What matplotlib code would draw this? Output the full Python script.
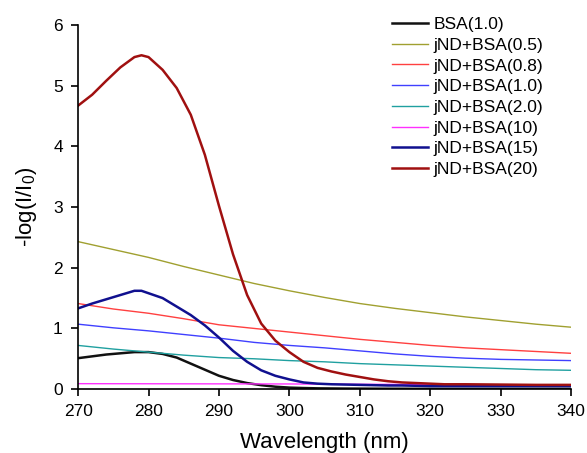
import matplotlib
matplotlib.use('Agg')
import matplotlib.pyplot as plt

plt.rcParams['font.family'] = ['Liberation Sans', 'DejaVu Sans']
plt.rcParams['mathtext.fontset'] = 'custom'
plt.rcParams['mathtext.rm'] = 'Liberation Sans'
plt.rcParams['mathtext.it'] = 'Liberation Sans:italic'
plt.rcParams['mathtext.default'] = 'regular'

# wavelength grids (nm)
wl_gentle = [270, 275, 280, 285, 290, 295, 300, 305, 310, 315, 320, 325, 330, 335, 340]
wl_peak = [270, 272, 274, 276, 278, 279, 280, 282, 284, 286, 288, 290, 292, 294, 296,
           298, 300, 302, 304, 306, 308, 310, 312, 314, 316, 318, 320, 322, 325, 330, 335, 340]
wl_flat = [270, 300, 320, 340]

# absorbance readings
bsa_10 = [0.51, 0.54, 0.57, 0.59, 0.61, 0.61, 0.61, 0.58, 0.52, 0.42, 0.32, 0.22, 0.15, 0.10, 0.065,
          0.04, 0.025, 0.018, 0.013, 0.011, 0.009, 0.008, 0.007, 0.006, 0.006, 0.005, 0.005, 0.005,
          0.005, 0.005, 0.005, 0.005]
jnd_05 = [2.43, 2.30, 2.17, 2.02, 1.88, 1.74, 1.62, 1.51, 1.41, 1.33, 1.26, 1.19, 1.13, 1.07, 1.02]
jnd_08 = [1.41, 1.32, 1.25, 1.16, 1.06, 1.00, 0.94, 0.88, 0.82, 0.77, 0.72, 0.68, 0.65, 0.62, 0.59]
jnd_10 = [1.07, 1.01, 0.96, 0.90, 0.84, 0.77, 0.72, 0.68, 0.63, 0.58, 0.54, 0.51, 0.49, 0.48, 0.47]
jnd_20 = [0.72, 0.66, 0.61, 0.56, 0.52, 0.50, 0.47, 0.45, 0.42, 0.40, 0.38, 0.36, 0.34, 0.32, 0.31]
jnd_10b = [0.09, 0.085, 0.075, 0.07]
jnd_15 = [1.33, 1.41, 1.48, 1.55, 1.62, 1.62, 1.58, 1.50, 1.36, 1.22, 1.05, 0.85, 0.63, 0.45, 0.31,
          0.22, 0.16, 0.11, 0.09, 0.08, 0.075, 0.07, 0.065, 0.06, 0.06, 0.055, 0.05, 0.05, 0.05,
          0.05, 0.05, 0.05]
jnd_20b = [4.67, 4.85, 5.08, 5.30, 5.47, 5.50, 5.47, 5.26, 4.96, 4.52, 3.86, 3.02, 2.22, 1.55, 1.08,
           0.80, 0.61, 0.45, 0.35, 0.29, 0.24, 0.20, 0.16, 0.13, 0.11, 0.10, 0.09, 0.08, 0.08,
           0.075, 0.07, 0.07]

fig = plt.figure(figsize=(5.87, 4.53), dpi=100)
ax = fig.add_axes([0.133, 0.141, 0.840, 0.804])

ax.plot(wl_peak, bsa_10, color='#111111', lw=1.8, label='BSA(1.0)')
ax.plot(wl_gentle, jnd_05, color='#a0a030', lw=1.0, label='jND+BSA(0.5)')
ax.plot(wl_gentle, jnd_08, color='#ff4040', lw=1.0, label='jND+BSA(0.8)')
ax.plot(wl_gentle, jnd_10, color='#4040ff', lw=1.0, label='jND+BSA(1.0)')
ax.plot(wl_gentle, jnd_20, color='#20a0a0', lw=1.0, label='jND+BSA(2.0)')
ax.plot(wl_flat, jnd_10b, color='#ff30ff', lw=1.0, label='jND+BSA(10)')
ax.plot(wl_peak, jnd_15, color='#10108f', lw=1.8, label='jND+BSA(15)')
ax.plot(wl_peak, jnd_20b, color='#a01010', lw=1.8, label='jND+BSA(20)')

ax.set_xlim(270, 340)
ax.set_ylim(0, 6)
ax.set_xticks(range(270, 341, 10))
ax.set_yticks(range(0, 7))
ax.spines['top'].set_visible(False)
ax.spines['right'].set_visible(False)
for s in ['left', 'bottom']:
    ax.spines[s].set_linewidth(1.2)
ax.tick_params(direction='out', length=5, width=1.2, labelsize=12.5, pad=6)

ax.set_xlabel('Wavelength (nm)', fontsize=16, labelpad=9)
ax.set_ylabel('-log(I/I$_0$)', fontsize=16, labelpad=10)

ax.legend(loc='upper left', bbox_to_anchor=(392 / 587, 1 - 17 / 453),
          bbox_transform=fig.transFigure, frameon=False, fontsize=12.5,
          handlelength=2.1, handletextpad=0.3, labelspacing=0.32,
          borderpad=0, borderaxespad=0)

fig.savefig('out.png', dpi=100)
